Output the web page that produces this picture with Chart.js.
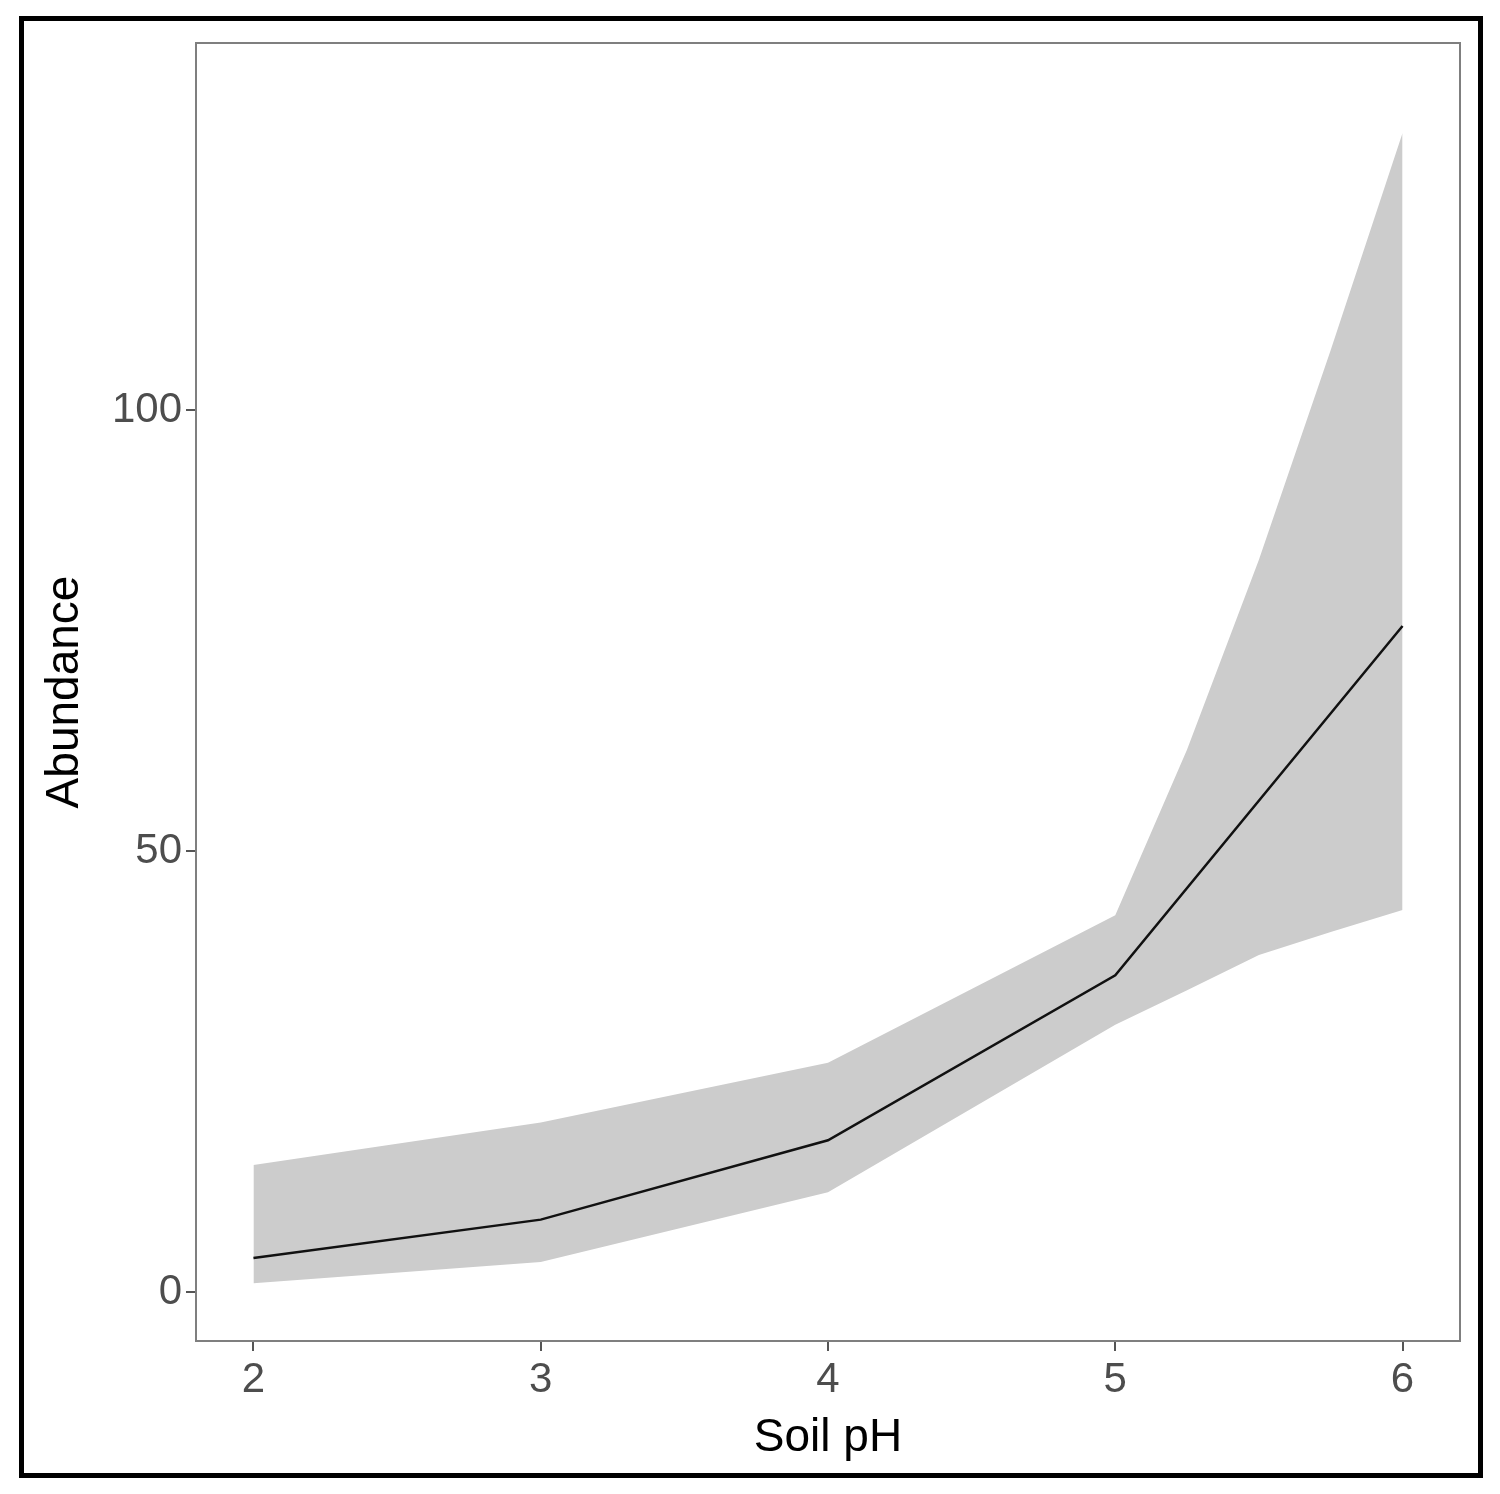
<!DOCTYPE html>
<html><head><meta charset="utf-8">
<script src="https://cdn.jsdelivr.net/npm/chart.js@4/dist/chart.umd.min.js"></script>
<style>
html,body{margin:0;padding:0;background:#fff;}
#wrap{position:relative;width:1500px;height:1494px;}
#frame{position:absolute;left:19px;top:16px;width:1454px;height:1452px;border:5px solid #000;pointer-events:none;}
canvas{position:absolute;left:0;top:0;}
</style></head><body>
<div id="wrap"><canvas id="c" width="1500" height="1494"></canvas><div id="frame"></div></div>
<script>
const xValues = [2, 3, 4, 5, 5.25, 5.5, 5.75, 6];
const upperValues = [14.4, 19.2, 26.0, 42.7, 61.5, 83.0, 106.8, 131.4];
const lowerValues = [1.0, 3.4, 11.3, 30.3, 34.2, 38.2, 40.8, 43.3];
const fitX = [2, 3, 4, 5, 6];
const fitValues = [3.85, 8.2, 17.2, 35.9, 75.5];
const xTicks = [2, 3, 4, 5, 6];
const yTicks = [0, 50, 100];

const frame = {id:'frame', afterDraw(ch){const a=ch.chartArea,c=ch.ctx;c.save();c.strokeStyle='#7f7f7f';c.lineWidth=2;c.strokeRect(a.left,a.top,a.right-a.left,a.bottom-a.top);c.restore();}};
new Chart(document.getElementById('c'), {
  type:'line',
  data:{datasets:[
    {order:2,data:xValues.map((x,i)=>({x,y:upperValues[i]})),borderWidth:0,pointRadius:0,fill:false,backgroundColor:'#cccccc'},
    {order:1,data:xValues.map((x,i)=>({x,y:lowerValues[i]})),borderWidth:0,pointRadius:0,fill:'-1',backgroundColor:'#cccccc'},
    {order:0,data:fitX.map((x,i)=>({x,y:fitValues[i]})),borderColor:'#111',borderWidth:2.5,pointRadius:0,fill:false}
  ]},
  options:{responsive:false,animation:false,
    layout:{padding:{left:34,top:43,right:40,bottom:24}},
    plugins:{legend:{display:false},tooltip:{enabled:false}},
    scales:{
      x:{type:'linear',min:1.8,max:6.2,afterBuildTicks(s){s.ticks=xTicks.map(v=>({value:v}));},
        afterFit(s){s.height=129;},
        grid:{drawOnChartArea:false,tickLength:10,color:'#555',lineWidth:2},border:{display:false},
        ticks:{color:'#4d4d4d',font:{family:'Liberation Sans',size:42},padding:4},
        title:{display:true,text:'Soil pH',color:'#000',font:{family:'Liberation Sans',size:46},padding:{top:0}}},
      y:{type:'linear',min:-5.56,max:141.6,afterBuildTicks(s){s.ticks=yTicks.map(v=>({value:v}));},
        afterFit(s){s.width=162;},
        grid:{drawOnChartArea:false,tickLength:10,color:'#555',lineWidth:2},border:{display:false},
        ticks:{color:'#4d4d4d',font:{family:'Liberation Sans',size:42},padding:4},
        title:{display:true,text:'Abundance',color:'#000',font:{family:'Liberation Sans',size:46},padding:{bottom:4}}}
    }},
  plugins:[frame]
});
</script></body></html>
